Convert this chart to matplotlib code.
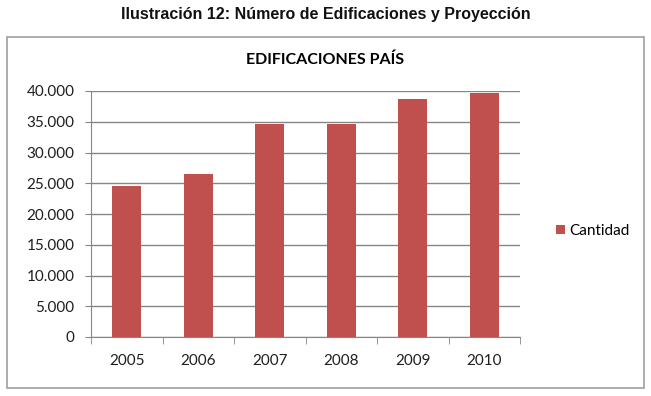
import matplotlib
matplotlib.use("Agg")
import matplotlib.pyplot as plt
import matplotlib.patches as patches
import numpy as np

# Data
years = ['2005', '2006', '2007', '2008', '2009', '2010']
cantidad = [24500, 26500, 34700, 34700, 38700, 39700]
yticks = [0, 5000, 10000, 15000, 20000, 25000, 30000, 35000, 40000]
ytick_labels = ['0', '5.000', '10.000', '15.000', '20.000', '25.000', '30.000', '35.000', '40.000']

bar_color = '#C0504D'
grid_color = '#868686'
text_color = '#1F1F1F'
chart_font = ['Lato', 'DejaVu Sans']

fig = plt.figure(figsize=(6.51, 3.96), dpi=100)
W, H = 651.0, 396.0

# Outer caption
fig.text(0.5, 1 - 15 / H, 'Ilustración 12: Número de Edificaciones y Proyección',
         ha='center', va='center', fontsize=11.5, fontweight='bold',
         family=['Liberation Sans', 'DejaVu Sans'], color='#111111')

# Box around the chart
box = patches.Rectangle((7 / W, 1 - 388 / H), (644 - 7) / W, (388 - 37) / H,
                        transform=fig.transFigure, fill=False,
                        edgecolor='#A0A0A0', linewidth=1.2)
fig.patches.append(box)

# Chart title
fig.text(325 / W, 1 - 60 / H, 'EDIFICACIONES PAÍS', ha='center', va='center',
         fontsize=11.5, fontweight='bold', family=chart_font, color='#000000')

ax = fig.add_axes([91 / W, 1 - 337 / H, (520 - 91) / W, (337 - 91) / H])
x = np.arange(len(years))
ax.bar(x, cantidad, width=0.41, color=bar_color, label='Cantidad', zorder=3)

ax.set_xlim(-0.5, len(years) - 0.5)
ax.set_ylim(0, 40000)
ax.set_yticks(yticks)
ax.set_yticklabels(ytick_labels, family=chart_font, fontsize=11, color=text_color)
ax.set_xticks(x)
ax.set_xticklabels(years, family=chart_font, fontsize=11, color=text_color)
ax.set_xticks(np.arange(-0.5, len(years)), minor=True)

ax.yaxis.grid(True, color=grid_color, linewidth=1, zorder=0)
for s in ['top', 'right']:
    ax.spines[s].set_visible(False)
ax.spines['left'].set_color(grid_color)
ax.spines['bottom'].set_color(grid_color)
ax.tick_params(axis='y', length=4, color=grid_color, pad=8)
ax.tick_params(axis='x', which='major', length=0, pad=12)
ax.tick_params(axis='x', which='minor', length=5, color=grid_color)

ax.legend(loc='center left', bbox_to_anchor=(542 / W, 1 - 231 / H),
          bbox_transform=fig.transFigure, frameon=False, handlelength=0.6,
          handleheight=0.6, handletextpad=0.3,
          prop={'family': chart_font, 'size': 11})

plt.savefig('out.png', dpi=100)
